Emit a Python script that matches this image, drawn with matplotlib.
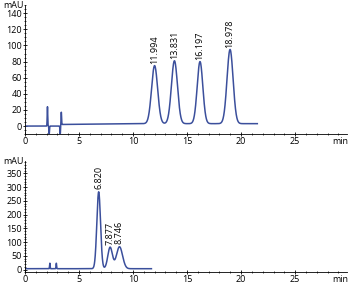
import numpy as np
import matplotlib.pyplot as plt
from matplotlib.ticker import MultipleLocator

# peak tables (time min, height mAU, width min)
top_rt = [11.994, 13.831, 16.197, 18.978]
top_height = [72, 78, 77, 92]
top_width = [0.28, 0.28, 0.26, 0.28]
top_spike_t = [2.08, 2.24, 3.26, 3.36]
top_spike_h = [24, -10, -10, 16]
top_end = 21.5

bot_rt = [6.820, 7.877, 8.746]
bot_height = [280, 78, 80]
bot_width = [0.17, 0.21, 0.28]
bot_spike_t = [2.3, 2.9]
bot_spike_h = [20, 20]
bot_end = 11.7

line_col = '#3b4f9c'
plt.rcParams['font.family'] = ['Open Sans', 'DejaVu Sans']
plt.rcParams['font.size'] = 6.5


def trace(t_end, rt, h, w, st, sh, base):
    t = np.linspace(0, t_end, 3000)
    y = np.zeros_like(t)
    for c, a, s in zip(rt, h, w):
        y += a * np.exp(-0.5 * ((t - c) / s) ** 2)
    for c, a in zip(st, sh):
        y += a * np.exp(-0.5 * ((t - c) / 0.025) ** 2)
    y += np.interp(t, base[0], base[1])
    return t, y


fig = plt.figure(figsize=(3.5, 2.86), dpi=100)
ax1 = fig.add_axes([0.0714, 0.531, 0.92, 0.451])
ax2 = fig.add_axes([0.0714, 0.048, 0.92, 0.389])

t, y = trace(top_end, top_rt, top_height, top_width, top_spike_t, top_spike_h,
             ([0, 3.3, 3.4, 11, 21.5], [0, 0, 2, 3, 3]))
ax1.plot(t, y, color=line_col, lw=1.1)
for c, a in zip(top_rt, top_height):
    ax1.text(c, a + 5, '%.3f' % c, rotation=90, ha='center', va='bottom')
ax1.set_ylim(-10, 150)
ax1.yaxis.set_minor_locator(MultipleLocator(5))
ax1.set_yticks(range(0, 141, 20))

t, y = trace(bot_end, bot_rt, bot_height, bot_width, bot_spike_t, bot_spike_h,
             ([0, 11.7], [3, 3]))
ax2.plot(t, y, color=line_col, lw=1.1)
for c, a in zip(bot_rt, bot_height):
    ax2.text(c, a + 12, '%.3f' % c, rotation=90, ha='center', va='bottom')
ax2.set_ylim(-10, 395)
ax2.set_yticks(range(0, 351, 50))
ax2.yaxis.set_minor_locator(MultipleLocator(10))

for ax in (ax1, ax2):
    ax.set_xlim(0, 29.8)
    ax.set_xticks([0, 5, 10, 15, 20, 25])
    ax.xaxis.set_minor_locator(MultipleLocator(1))
    for s in ('top', 'right'):
        ax.spines[s].set_visible(False)
    ax.spines['left'].set_linewidth(0.6)
    ax.spines['bottom'].set_linewidth(0.6)
    ax.tick_params(which='major', length=3, width=0.6, direction='inout', pad=0.5)
    ax.tick_params(which='minor', length=2, width=0.5, direction='inout')
    ax.text(-0.005, 1.0, 'mAU', transform=ax.transAxes, ha='right', va='center')
    ax.annotate('min', xy=(29.2, ax.get_ylim()[0]), xytext=(0, -2),
                textcoords='offset points', ha='center', va='top')

fig.savefig('out.png', dpi=100)
